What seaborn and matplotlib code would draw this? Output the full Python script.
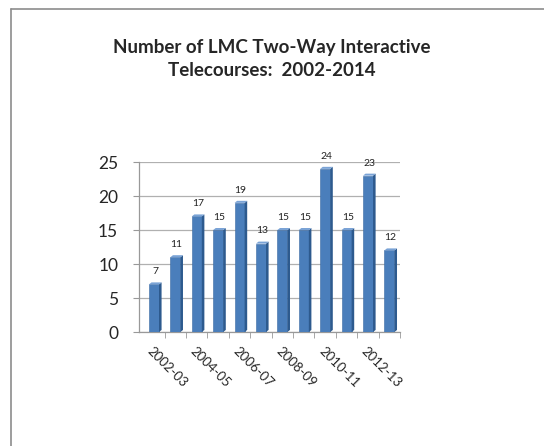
import numpy as np
import pandas as pd
import matplotlib
matplotlib.use('Agg')
import matplotlib.pyplot as plt
from matplotlib.patches import Polygon
from matplotlib.lines import Line2D
import seaborn as sns

# school years and course counts
years = ['2002-03', '2003-04', '2004-05', '2005-06', '2006-07', '2007-08',
         '2008-09', '2009-10', '2010-11', '2011-12', '2012-13', '2013-14']
courses = [7, 11, 17, 15, 19, 13, 15, 15, 24, 15, 23, 12]
y_ticks = [0, 5, 10, 15, 20, 25]

df = pd.DataFrame({'year': years, 'courses': courses})

sns.set_style('white')
plt.rcParams['font.family'] = ['Lato', 'DejaVu Sans']

fig = plt.figure(figsize=(5.44, 4.46), dpi=100)
ax = fig.add_axes([0.2555, 0.2556, 0.48, 0.381])

sns.barplot(data=df, x='year', y='courses', color='#4a7ebb', saturation=1,
            width=0.47, ax=ax, zorder=3)

# fake 3d side/top faces taken from each bar
dx, dy = 0.12, 0.3
for p in ax.patches:
    x0, w, h = p.get_x(), p.get_width(), p.get_height()
    side = Polygon([(x0 + w, 0), (x0 + w + dx, dy), (x0 + w + dx, h + dy), (x0 + w, h)],
                   closed=True, facecolor='#2d5a8e', edgecolor='none', zorder=3)
    top = Polygon([(x0, h), (x0 + dx, h + dy), (x0 + w + dx, h + dy), (x0 + w, h)],
                  closed=True, facecolor='#7aa3d6', edgecolor='none', zorder=3)
    ax.add_patch(side)
    ax.add_patch(top)
    p.set_edgecolor('#3a6aa3')
    p.set_linewidth(0.4)

for i, v in enumerate(courses):
    ax.text(i + 0.05, v + 1.2, str(v), ha='center', va='bottom', fontsize=7.5, color='#222222')

ax.set_xlim(-0.7, 11.5)
ax.set_ylim(0, 25)
ax.set_yticks(y_ticks)
ax.set_yticklabels([str(t) for t in y_ticks], fontsize=12.5)
ax.yaxis.grid(True, color='#b0b0b0', linewidth=0.9, zorder=0)

ax.set_xticks(range(0, len(years), 2))
ax.set_xticklabels(years[::2], rotation=-45, ha='left', va='top',
                   rotation_mode='anchor', fontsize=9.5)
ax.set_xticks(np.arange(len(years)) + 0.5, minor=True)
ax.tick_params(axis='x', which='major', length=0, pad=9)
ax.tick_params(axis='x', which='minor', length=4, color='#999999', direction='out', bottom=True)
ax.tick_params(axis='y', length=4, color='#999999', direction='out', left=True, pad=11)

ax.set_xlabel('')
ax.set_ylabel('')
sns.despine(ax=ax, top=True, right=True)
for s in ['left', 'bottom']:
    ax.spines[s].set_color('#999999')
    ax.spines[s].set_linewidth(0.9)

fig.text(0.5, 0.867, 'Number of LMC Two-Way Interactive\nTelecourses:  2002-2014',
         ha='center', va='center', fontsize=13.5, fontweight='bold', linespacing=1.45)

# outer frame (left and top edges visible)
fig.add_artist(Line2D([0.021, 0.021], [0, 0.98], transform=fig.transFigure,
                      color='#8c8c8c', linewidth=1.2))
fig.add_artist(Line2D([0.021, 1.0], [0.98, 0.98], transform=fig.transFigure,
                      color='#8c8c8c', linewidth=1.2))

fig.savefig('out.png', dpi=100)
